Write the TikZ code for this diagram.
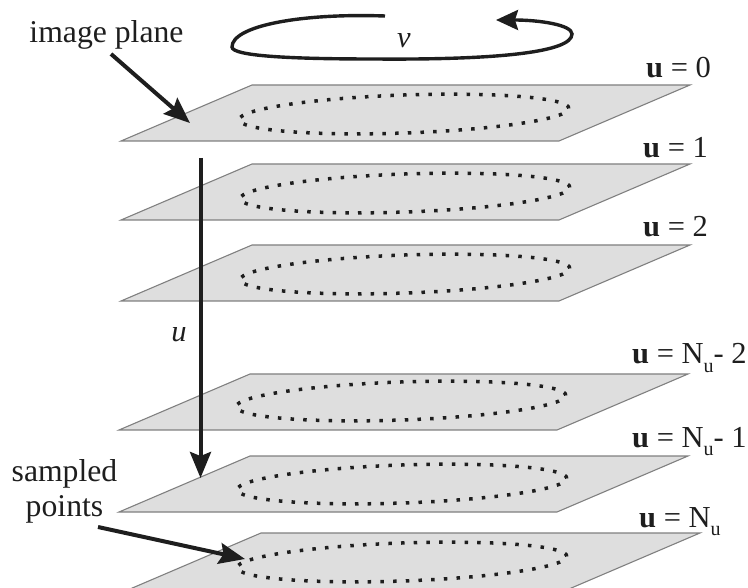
\documentclass[tikz,border=0pt]{standalone}
\usepackage{fontspec}
\setmainfont{Liberation Serif}
\usetikzlibrary{arrows.meta}
\definecolor{planefill}{HTML}{DEDEDE}
\definecolor{planeedge}{HTML}{808080}
\definecolor{inkdark}{HTML}{1E1E1E}
\newcommand{\Nsub}{N\raisebox{-0.28em}{\fontsize{20}{20}\selectfont u}}
\begin{document}
\begin{tikzpicture}[
    x=1pt,y=-1pt,
    font=\fontsize{30.5}{35}\selectfont,
    plane/.style={draw=planeedge,fill=planefill,line width=1.1pt},
    sampled/.style={draw=inkdark,line width=3.5pt,dash pattern=on 3.5pt off 9.2pt},
    arr/.style={-{Stealth[length=26pt,width=21pt,inset=4pt]},draw=inkdark,line width=4pt},
    loopline/.style={-{Stealth[length=22pt,width=20pt,inset=3pt]},draw=inkdark,line width=3.4pt},
    lbl/.style={inner sep=0pt,text=inkdark},
    biglbl/.style={lbl,font=\fontsize{31.7}{35}\selectfont},
    ulbl/.style={lbl,anchor=base west},
  ]
    \useasboundingbox (0,0) rectangle (748,588);
    \clip (0,0) rectangle (748,588);

    % image planes, top to bottom
    \foreach \xl/\yt/\cx/\cy/\wd in {
        121/85/404/114/438, 121/164/405/193/438, 121/245/405/274/438,
        119/374/401/401/438, 119/456/402/484/438, 130/533/402/562/439} {
      \draw[plane] (\xl,\yt+56) -- (\xl+131,\yt) -- (\xl+131+\wd,\yt) -- (\xl+\wd,\yt+56) -- cycle;
      \draw[sampled,shift={(\cx,\cy)},rotate=2] (0,0) ellipse [x radius=165pt,y radius=19pt];
    }

    \node[biglbl,anchor=base] (imgplane) at (106.5,43) {image plane};
    \node[biglbl,align=center] (samppts) at (64.5,491) {sampled\\points};
    \node[ulbl] (u0) at (646,78) {\textbf{u} = 0};
    \node[ulbl] (u1) at (643,158) {\textbf{u} = 1};
    \node[ulbl] (u2) at (643,237) {\textbf{u} = 2};
    \node[ulbl] (un2) at (632,364) {\textbf{u} = \Nsub- 2};
    \node[ulbl] (un1) at (632,447) {\textbf{u} = \Nsub- 1};
    \node[ulbl] (un) at (639,527) {\textbf{u} = \Nsub};
    \node[lbl,anchor=base] (vlbl) at (404,48) {\itshape v};
    \node[lbl,anchor=base] (ulabel) at (179,342) {\itshape u};

    \coordinate (imgtip) at (190,123);
    \coordinate (samptail) at (98,527);
    \coordinate (samptip) at (245,559);
    \coordinate (utop) at (200.5,158);
    \coordinate (ubot) at (200.5,478);
    \coordinate (vstart) at (385,16);
    \coordinate (vend) at (496,20);

    \draw[arr,shorten <=6pt] (imgplane.south) -- (imgtip);
    \draw[arr] (utop) -- (ubot);
    \draw[arr] (samptail) -- (samptip);
    \draw[loopline] (vstart) .. controls (300,13) and (232,26) .. (232,47)
      .. controls (232,56) and (290,59) .. (374,59)
      .. controls (500,60) and (572,52) .. (572,34)
      .. controls (572,25) and (540,20) .. (vend);
\end{tikzpicture}
\end{document}
